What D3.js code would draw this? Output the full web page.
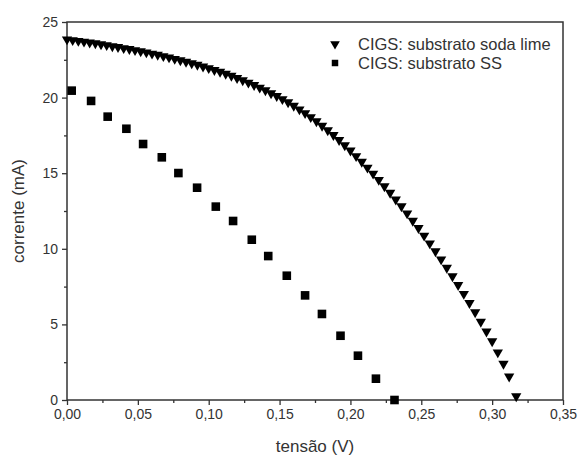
<!DOCTYPE html>
<html>
<head>
<meta charset="utf-8">
<script src="https://cdn.jsdelivr.net/npm/d3@7"></script>
<style>
  body { margin: 0; background: #fff; }
  text { font-family: "Liberation Sans", Arial, sans-serif; fill: #333; }
</style>
</head>
<body>
<div id="chart"></div>
<script>
// CIGS: substrato soda lime (triangles)
var vSoda = [0.000,0.004,0.008,0.012,0.016,0.020,0.024,0.028,0.032,0.036,0.040,0.044,0.048,
  0.052,0.056,0.060,0.064,0.068,0.072,0.076,0.080,0.084,0.088,0.092,0.096,
  0.100,0.104,0.108,0.112,0.116,0.120,0.124,0.128,0.132,0.136,0.140,0.144,0.148,
  0.152,0.156,0.160,0.164,0.168,0.172,0.176,0.180,0.184,0.188,0.192,0.196,
  0.200,0.204,0.208,0.212,0.216,0.220,0.224,0.228,0.232,0.236,0.240,0.244,0.248,
  0.252,0.256,0.260,0.264,0.268,0.272,0.276,0.280,0.284,0.288,0.292,0.296,
  0.300,0.304,0.308,0.312,0.317];
var iSoda = [23.85,23.80,23.75,23.70,23.64,23.59,23.53,23.47,23.40,23.34,23.27,23.21,23.14,
  23.06,22.99,22.91,22.83,22.74,22.66,22.56,22.47,22.37,22.27,22.17,22.06,
  21.95,21.83,21.71,21.58,21.45,21.30,21.15,20.99,20.83,20.66,20.48,20.29,20.10,
  19.90,19.69,19.46,19.22,18.97,18.71,18.43,18.14,17.84,17.52,17.19,16.85,
  16.50,16.13,15.76,15.37,14.97,14.56,14.14,13.71,13.26,12.81,12.34,11.86,11.37,
  10.87,10.36,9.84,9.30,8.75,8.18,7.61,7.02,6.41,5.80,5.17,4.53,
  3.88,3.15,2.40,1.55,0.25];

// CIGS: substrato SS (squares)
var vSS = [0.0033,0.0170,0.0287,0.0419,0.0537,0.0669,0.0786,0.0918,0.1050,0.1172,
  0.1304,0.1420,0.1551,0.1680,0.1799,0.1930,0.2053,0.2180,0.2311];
var iSS = [20.46,19.78,18.74,17.94,16.93,16.05,15.01,14.04,12.79,11.84,
  10.60,9.52,8.22,6.92,5.69,4.25,2.93,1.41,0.00];

var xTicks = [0,0.05,0.10,0.15,0.20,0.25,0.30,0.35];
var yTicks = [0,5,10,15,20,25];
var legendLabels = ["CIGS: substrato soda lime","CIGS: substrato SS"];

var svgWidth = 579;
var svgHeight = 458;
var margin = {top: 22, right: 16, bottom: 58, left: 67};
var width = svgWidth - margin.left - margin.right;
var height = svgHeight - margin.top - margin.bottom;

var svg = d3.select("#chart").append("svg")
    .attr("width", svgWidth)
    .attr("height", svgHeight);

var chartGroup = svg.append("g")
    .attr("transform", `translate(${margin.left},${margin.top})`);

var x = d3.scaleLinear().domain([0, 0.35]).range([0, width]);
var y = d3.scaleLinear().domain([0, 25]).range([height, 0]);

var commaFmt = function(f) {
  return function(d) { return d3.format(f)(d).replace(".", ","); };
};

// minor ticks
chartGroup.append("g")
    .attr("transform", `translate(0,${height})`)
    .call(d3.axisBottom(x).tickValues(d3.range(0.025, 0.35, 0.05)).tickSize(3).tickFormat(""))
    .call(g => g.select(".domain").remove());
chartGroup.append("g")
    .call(d3.axisLeft(y).tickValues(d3.range(2.5, 25, 5)).tickSize(3).tickFormat(""))
    .call(g => g.select(".domain").remove());

// major axes
chartGroup.append("g")
    .attr("transform", `translate(0,${height})`)
    .call(d3.axisBottom(x).tickValues(xTicks).tickSize(5).tickPadding(4).tickFormat(commaFmt(".2f")));
chartGroup.append("g")
    .call(d3.axisLeft(y).tickValues(yTicks).tickSize(5).tickPadding(4).tickFormat(d3.format("d")));

chartGroup.selectAll(".tick line").attr("stroke", "#333").attr("stroke-width", 1.3);
chartGroup.selectAll(".domain").remove();
chartGroup.selectAll(".tick text")
    .attr("font-size", "14px")
    .attr("font-family", "Liberation Sans, Arial, sans-serif")
    .attr("fill", "#333");

// frame
chartGroup.append("rect")
    .attr("width", width)
    .attr("height", height)
    .attr("fill", "none")
    .attr("stroke", "#333")
    .attr("stroke-width", 1.5);

var sodaData = vSoda.map((v, i) => ({v: v, c: iSoda[i]}));
var ssData = vSS.map((v, i) => ({v: v, c: iSS[i]}));

var triangle = d3.symbol().type(d3.symbolTriangle).size(46);
var square = d3.symbol().type(d3.symbolSquare).size(74);

chartGroup.selectAll(".soda")
    .data(sodaData)
    .enter()
    .append("path")
    .attr("class", "soda")
    .attr("d", triangle)
    .attr("transform", d => `translate(${x(d.v)},${y(d.c)}) rotate(180)`)
    .attr("fill", "#000");

chartGroup.selectAll(".ss")
    .data(ssData)
    .enter()
    .append("path")
    .attr("class", "ss")
    .attr("d", square)
    .attr("transform", d => `translate(${x(d.v)},${y(d.c)})`)
    .attr("fill", "#000");

// legend
var legend = svg.append("g").attr("transform", "translate(335,44)");
legend.append("path")
    .attr("d", d3.symbol().type(d3.symbolTriangle).size(40))
    .attr("transform", "rotate(180)")
    .attr("fill", "#000");
legend.append("path")
    .attr("d", d3.symbol().type(d3.symbolSquare).size(42))
    .attr("transform", "translate(0,19)")
    .attr("fill", "#000");
legend.selectAll(".leg")
    .data(legendLabels)
    .enter()
    .append("text")
    .attr("x", 23)
    .attr("y", (d, i) => i * 19)
    .attr("dy", "0.35em")
    .attr("font-size", "16.5px")
    .text(d => d);

// axis labels
svg.append("text")
    .attr("transform", `translate(24,${margin.top + height / 2}) rotate(-90)`)
    .attr("text-anchor", "middle")
    .attr("font-size", "17px")
    .text("corrente (mA)");

svg.append("text")
    .attr("x", margin.left + width / 2)
    .attr("y", 452)
    .attr("text-anchor", "middle")
    .attr("font-size", "17px")
    .text("tensão (V)");
</script>
</body>
</html>
